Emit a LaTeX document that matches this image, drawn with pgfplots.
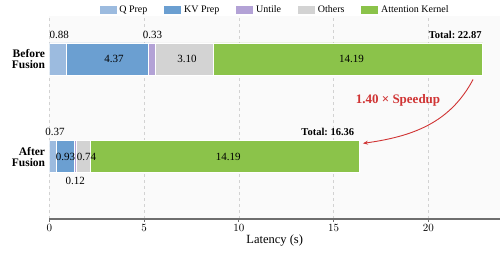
\documentclass[border=0pt]{standalone}
\usepackage{fontspec}
\setmainfont{Liberation Serif}
\usepackage{pgfplots}
\pgfplotsset{compat=1.18}
\usetikzlibrary{arrows.meta}
\definecolor{qprep}{HTML}{9CBBDF}
\definecolor{kvprep}{HTML}{6B9FD1}
\definecolor{untile}{HTML}{B3A2D6}
\definecolor{others}{HTML}{D3D3D3}
\definecolor{attn}{HTML}{8BC34A}
\definecolor{spd}{HTML}{D03434}
\definecolor{axgray}{HTML}{6E6E6E}
\tikzset{vl/.style={font=\fontsize{11}{12}\selectfont, inner sep=1pt},
  tl/.style={font=\fontsize{10.5}{12}\selectfont\bfseries, inner sep=1pt, anchor=south east}}
\begin{document}
\frenchspacing
\begin{tikzpicture}[font=\fontsize{10}{12}\selectfont]
\begin{axis}[
  at={(0,0)}, anchor=south west,
  scale only axis, width=450.7pt, height=203pt,
  xbar stacked, bar width=32pt,
  xmin=0, xmax=23.78, ymin=-0.64, ymax=1.44,
  ytick={0,1},
  yticklabels={{After\\Fusion},{Before\\Fusion}},
  yticklabel style={align=right, font=\fontsize{11.5}{11}\selectfont\bfseries, inner sep=1pt},
  xtick={0,5,10,15,20},
  xticklabel style={font=\fontsize{10.5}{12}\selectfont, inner sep=2pt},
  xlabel={Latency (s)},
  xlabel style={font=\fontsize{12.5}{14}\selectfont, yshift=2pt},
  separate axis lines,
  axis x line*=bottom, axis y line*=left,
  x axis line style={draw=axgray, line width=1.6pt, -},
  y axis line style={draw=none},
  ytick style={draw=none},
  xtick style={draw=axgray, line width=0.8pt},
  tick align=outside, major tick length=3pt,
  xmajorgrids, grid style={dashed, gray!35, line width=0.5pt},
  axis background/.style={fill=black!2},
  legend columns=5,
  legend style={draw=none, fill=none, at={(0.5,1.0)}, anchor=south, yshift=-2pt,
    font=\fontsize{10}{12}\selectfont,
    /tikz/every even column/.append style={column sep=14pt}},
  area legend,
  legend image post style={xscale=1.05, yscale=1.55, draw=none},
]
\addplot[fill=qprep, draw=white, line width=0.8pt] coordinates {(0.37,0) (0.88,1)};
\addplot[fill=kvprep, draw=white, line width=0.8pt] coordinates {(0.93,0) (4.37,1)};
\addplot[fill=untile, draw=white, line width=0.8pt] coordinates {(0.12,0) (0.33,1)};
\addplot[fill=others, draw=white, line width=0.8pt] coordinates {(0.74,0) (3.10,1)};
\addplot[fill=attn, draw=white, line width=0.8pt] coordinates {(14.19,0) (14.19,1)};
\legend{Q Prep, KV Prep, Untile, Others, Attention Kernel}

\coordinate (b1) at (axis cs:0.52,1.2);
\coordinate (b2) at (axis cs:3.42,1);
\coordinate (b3) at (axis cs:5.44,1.2);
\coordinate (b4) at (axis cs:7.27,1);
\coordinate (b5) at (axis cs:15.95,1);
\coordinate (a1) at (axis cs:0.3,0.2);
\coordinate (a2) at (axis cs:0.85,0);
\coordinate (a4) at (axis cs:1.96,0);
\coordinate (a3) at (axis cs:1.37,-0.2);
\coordinate (a5) at (axis cs:9.44,0);
\coordinate (bt) at (axis cs:22.87,1.2);
\coordinate (at) at (axis cs:16.15,0.2);
\coordinate (s0) at (axis cs:22.36,0.79);
\coordinate (s1) at (axis cs:16.55,0.135);
\coordinate (sl) at (axis cs:18.4,0.575);
\end{axis}
\node[vl, anchor=south] at (b1) {0.88};
\node[vl] at (b2) {4.37};
\node[vl, anchor=south] at (b3) {0.33};
\node[vl] at (b4) {3.10};
\node[vl] at (b5) {14.19};
\node[vl, anchor=south] at (a1) {0.37};
\node[vl] at (a2) {0.93};
\node[vl] at (a4) {0.74};
\node[vl, anchor=north] at (a3) {0.12};
\node[vl] at (a5) {14.19};
\node[tl] at (bt) {Total: 22.87};
\node[tl] at (at) {Total: 16.36};
\draw[spd, line width=0.9pt, -{Stealth[length=5pt,width=4pt]}] (s0) to[out=-118, in=8] (s1);
\node[spd, font=\fontsize{13}{14}\selectfont\bfseries] at (sl) {1.40 × Speedup};
\pgfresetboundingbox
\path[use as bounding box] (-49.3pt,-35pt) rectangle (450.7pt,219pt);
\end{tikzpicture}
\end{document}
